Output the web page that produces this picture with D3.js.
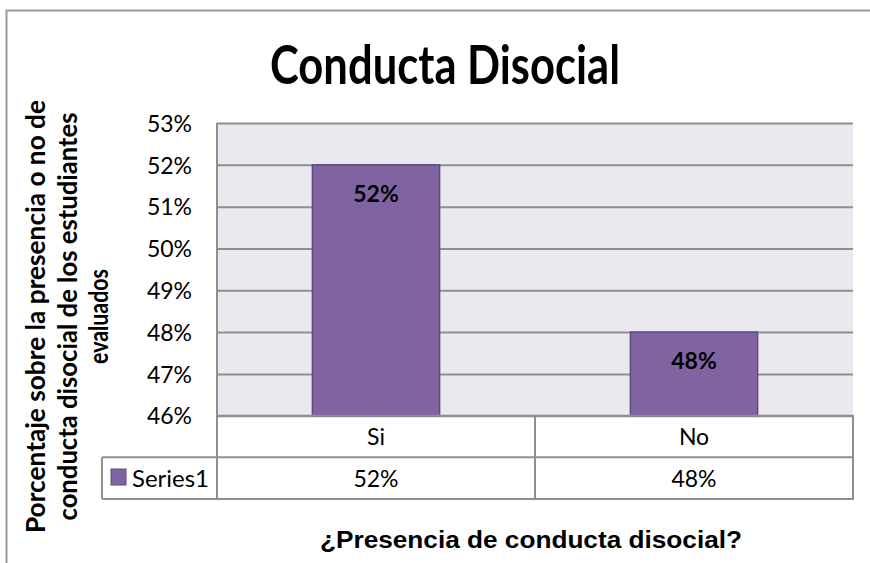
<!DOCTYPE html>
<html>
<head>
<meta charset="utf-8">
<script src="https://cdn.jsdelivr.net/npm/d3@7"></script>
<style>
  body { margin: 0; background: #fff; overflow: hidden; }
  svg { display: block; }
</style>
</head>
<body>
<div id="main"></div>
<script>
const categories = ["Si", "No"];
const values = [0.52, 0.48];
const seriesName = "Series1";
const yTicks = [0.46, 0.47, 0.48, 0.49, 0.50, 0.51, 0.52, 0.53];
const chartTitle = "Conducta Disocial";
const yTitleLines = ["Porcentaje sobre la presencia o no de", "conducta disocial de los estudiantes", "evaluados"];
const xTitle = "¿Presencia de conducta disocial?";

const width = 870;
const height = 563;

const plotLeft = 217;
const plotRight = 853;
const plotTop = 123;
const plotBottom = 415.7;
const rowH = 41.6;
const tableLeft = 102;

const barFill = "#8064a2";
const barStroke = "#5f4a7d";
const gridColor = "#8f8f8f";
const plotBg = "#ebe9f0";

const pct = d3.format(".0%");

const svg = d3.select("#main")
  .append("svg")
  .attr("width", width)
  .attr("height", height);

// outer frame of the chart, only top and left edges are in view
svg.append("path")
  .attr("d", "M6.5," + height + "V10.5H" + width)
  .attr("fill", "none")
  .attr("stroke", "#9a9a9a")
  .attr("stroke-width", 2);

const yScale = d3.scaleLinear()
  .domain([0.46, 0.53])
  .range([plotBottom, plotTop]);

const xScale = d3.scaleBand()
  .domain(categories)
  .range([plotLeft, plotRight])
  .paddingInner(0.6)
  .paddingOuter(0.3);

// cells of the data table
const cellScale = d3.scaleBand()
  .domain(categories)
  .range([plotLeft, plotRight]);

svg.append("rect")
  .attr("x", plotLeft)
  .attr("y", plotTop)
  .attr("width", plotRight - plotLeft)
  .attr("height", plotBottom - plotTop)
  .attr("fill", plotBg);

const yAxis = d3.axisLeft(yScale)
  .tickValues(yTicks)
  .tickFormat(pct)
  .tickSize(-(plotRight - plotLeft))
  .tickPadding(25);

const yG = svg.append("g")
  .attr("transform", "translate(" + plotLeft + ",0)")
  .call(yAxis);

yG.select(".domain").remove();
yG.selectAll(".tick line")
  .attr("stroke", gridColor)
  .attr("stroke-width", 2);
yG.selectAll(".tick text")
  .attr("font-family", "Lato, sans-serif")
  .attr("font-size", 23)
  .attr("fill", "#000")
  .attr("dy", "0.36em");

// bars
svg.selectAll(".bar")
  .data(values)
  .enter()
  .append("rect")
  .attr("class", "bar")
  .attr("x", (d, i) => xScale(categories[i]))
  .attr("y", d => yScale(d))
  .attr("width", xScale.bandwidth())
  .attr("height", d => plotBottom - yScale(d))
  .attr("fill", barFill)
  .attr("stroke", barStroke)
  .attr("stroke-width", 1.5);

svg.selectAll(".bar-label")
  .data(values)
  .enter()
  .append("text")
  .attr("class", "bar-label")
  .attr("x", (d, i) => xScale(categories[i]) + xScale.bandwidth() / 2)
  .attr("y", d => yScale(d) + 37)
  .attr("text-anchor", "middle")
  .attr("font-family", "Lato, sans-serif")
  .attr("font-weight", "bold")
  .attr("font-size", 23)
  .text(d => pct(d));

// data table lines
const table = svg.append("g")
  .attr("stroke", gridColor)
  .attr("stroke-width", 2)
  .attr("fill", "none");

const row1 = plotBottom;
const row2 = plotBottom + rowH;
const row3 = plotBottom + 2 * rowH;

table.append("line").attr("x1", plotLeft).attr("x2", plotRight + 1).attr("y1", row1).attr("y2", row1);
table.append("line").attr("x1", tableLeft).attr("x2", plotRight + 1).attr("y1", row2).attr("y2", row2);
table.append("line").attr("x1", tableLeft).attr("x2", plotRight + 1).attr("y1", row3).attr("y2", row3);
table.append("line").attr("x1", tableLeft).attr("x2", tableLeft).attr("y1", row2).attr("y2", row3);
table.append("line").attr("x1", plotLeft).attr("x2", plotLeft).attr("y1", plotTop).attr("y2", row3);

table.selectAll(".col")
  .data(categories)
  .enter()
  .append("line")
  .attr("x1", d => cellScale(d) + cellScale.bandwidth())
  .attr("x2", d => cellScale(d) + cellScale.bandwidth())
  .attr("y1", row1)
  .attr("y2", row3);

svg.selectAll(".cat-label")
  .data(categories)
  .enter()
  .append("text")
  .attr("x", d => cellScale(d) + cellScale.bandwidth() / 2)
  .attr("y", row1 + rowH / 2 + 8.5)
  .attr("text-anchor", "middle")
  .attr("font-family", "Lato, sans-serif")
  .attr("font-size", 23)
  .text(d => d);

svg.selectAll(".val-label")
  .data(values)
  .enter()
  .append("text")
  .attr("x", (d, i) => cellScale(categories[i]) + cellScale.bandwidth() / 2)
  .attr("y", row2 + rowH / 2 + 8.5)
  .attr("text-anchor", "middle")
  .attr("font-family", "Lato, sans-serif")
  .attr("font-size", 23)
  .text(d => pct(d));

// legend key inside the table
svg.append("rect")
  .attr("x", 111)
  .attr("y", 469)
  .attr("width", 15)
  .attr("height", 16)
  .attr("fill", barFill)
  .attr("stroke", barStroke)
  .attr("stroke-width", 1);

svg.append("text")
  .attr("x", 132)
  .attr("y", row2 + rowH / 2 + 8.5)
  .attr("font-family", "Lato, sans-serif")
  .attr("font-size", 23)
  .attr("textLength", 77)
  .attr("lengthAdjust", "spacingAndGlyphs")
  .text(seriesName);

// titles
svg.append("text")
  .attr("x", 445)
  .attr("y", 84)
  .attr("text-anchor", "middle")
  .attr("font-family", "Lato, sans-serif")
  .attr("font-weight", "bold")
  .attr("font-size", 53)
  .attr("textLength", 350)
  .attr("lengthAdjust", "spacingAndGlyphs")
  .text(chartTitle);

const yTitleBase = [45, 76.5, 107.5];
const yTitleLen = [433, 408, 95];

svg.selectAll(".y-title")
  .data(yTitleLines)
  .enter()
  .append("text")
  .attr("class", "y-title")
  .attr("transform", (d, i) => "translate(" + yTitleBase[i] + ",316.5) rotate(-90)")
  .attr("text-anchor", "middle")
  .attr("font-family", "Lato, sans-serif")
  .attr("font-weight", "bold")
  .attr("font-size", 27)
  .attr("textLength", (d, i) => yTitleLen[i])
  .attr("lengthAdjust", "spacingAndGlyphs")
  .text(d => d);

svg.append("text")
  .attr("x", 531)
  .attr("y", 548)
  .attr("text-anchor", "middle")
  .attr("font-family", "'Liberation Sans', Arial, sans-serif")
  .attr("font-weight", "bold")
  .attr("font-size", 23)
  .attr("textLength", 422)
  .attr("lengthAdjust", "spacingAndGlyphs")
  .text(xTitle);
</script>
</body>
</html>
